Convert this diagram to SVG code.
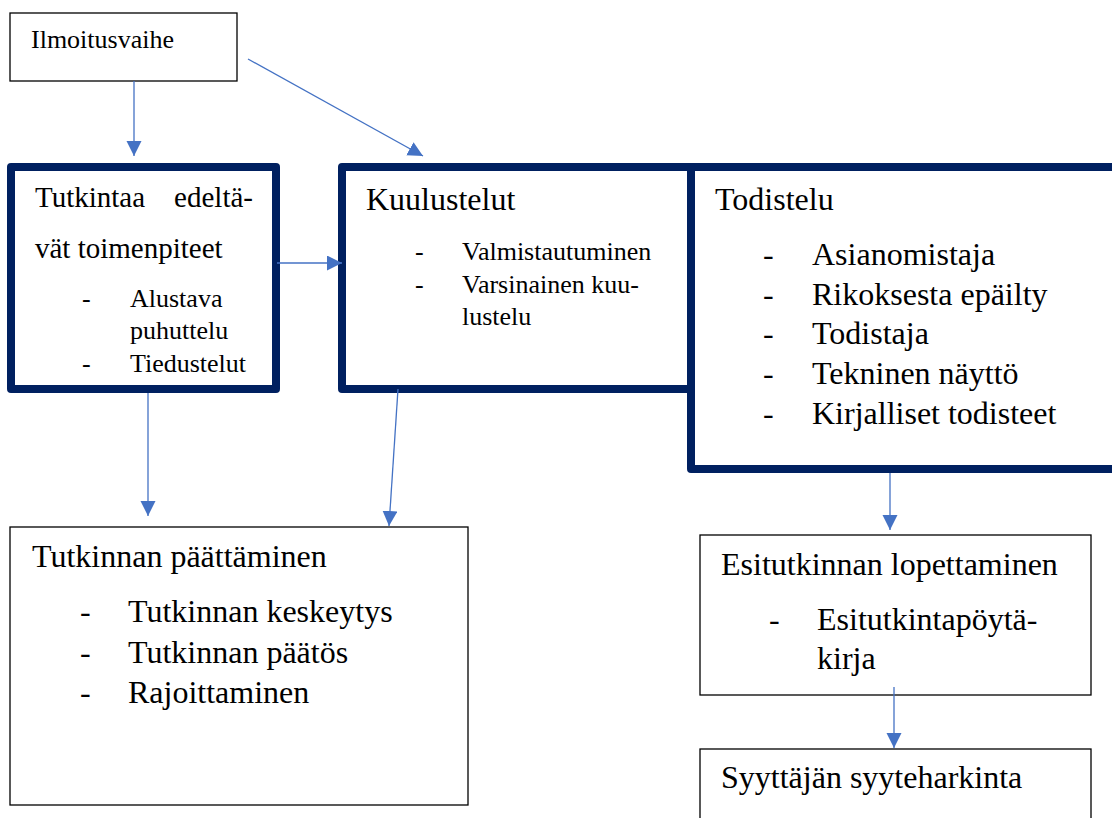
<svg xmlns="http://www.w3.org/2000/svg" width="1112" height="818" viewBox="0 0 1112 818">
<style>
text{font-family:"Liberation Serif","Times New Roman",serif;fill:#000}
.thin{fill:#fff;stroke:#000;stroke-width:1.3}
.thick{fill:#fff;stroke:#002060;stroke-width:8;stroke-linejoin:round}
.conn{stroke:#4472C4;stroke-width:1.3;fill:none;marker-end:url(#ah)}
.h26{font-size:26px}.h29{font-size:29px}.h32{font-size:32px}
</style>
<defs>
<marker id="ah" markerUnits="userSpaceOnUse" markerWidth="16" markerHeight="16" refX="15" refY="7.5" orient="auto">
<path d="M0,0 L15,7.5 L0,15 Z" fill="#4472C4"/>
</marker>
</defs>
<rect width="1112" height="818" fill="#fff"/>
<g id="todistelu">
<rect class="thick" x="691" y="167" width="440" height="302"/>
<text class="h32" x="715" y="210">Todistelu</text>
<text class="h32"><tspan x="763" y="265">-</tspan><tspan x="812" y="265">Asianomistaja</tspan><tspan x="763" y="305">-</tspan><tspan x="812" y="305">Rikoksesta epäilty</tspan><tspan x="763" y="344">-</tspan><tspan x="812" y="344">Todistaja</tspan><tspan x="763" y="384">-</tspan><tspan x="812" y="384">Tekninen näyttö</tspan><tspan x="763" y="424">-</tspan><tspan x="812" y="424">Kirjalliset todisteet</tspan></text>
</g>
<g id="kuulustelut">
<rect class="thick" x="342" y="167" width="349" height="222"/>
<text class="h32" x="366" y="210">Kuulustelut</text>
<text class="h26"><tspan x="415" y="260">-</tspan><tspan x="462" y="260">Valmistautuminen</tspan><tspan x="415" y="293">-</tspan><tspan x="462" y="293">Varsinainen kuu-</tspan><tspan x="462" y="325">lustelu</tspan></text>
</g>
<g id="ilmoitusvaihe">
<rect class="thin" x="10" y="13" width="227" height="68"/>
<text class="h26" x="31" y="48">Ilmoitusvaihe</text>
</g>
<g id="tutkintaa-edeltavat">
<rect class="thick" x="11" y="167" width="265" height="222"/>
<text class="h29" x="35" y="207">Tutkintaa</text>
<text class="h29" x="253" y="207" text-anchor="end">edeltä-</text>
<text class="h29" x="35" y="258">vät toimenpiteet</text>
<text class="h26"><tspan x="82" y="307">-</tspan><tspan x="130" y="307">Alustava</tspan><tspan x="130" y="339">puhuttelu</tspan><tspan x="82" y="372">-</tspan><tspan x="130" y="372">Tiedustelut</tspan></text>
</g>
<g id="tutkinnan-paattaminen">
<rect class="thin" x="10" y="527" width="458" height="278"/>
<text class="h32" x="32" y="567">Tutkinnan päättäminen</text>
<text class="h32"><tspan x="80" y="622">-</tspan><tspan x="128" y="622">Tutkinnan keskeytys</tspan><tspan x="80" y="663">-</tspan><tspan x="128" y="663">Tutkinnan päätös</tspan><tspan x="80" y="703">-</tspan><tspan x="128" y="703">Rajoittaminen</tspan></text>
</g>
<g id="esitutkinnan-lopettaminen">
<rect class="thin" x="700" y="535" width="391" height="160"/>
<text class="h32" x="721" y="575">Esitutkinnan lopettaminen</text>
<text class="h32"><tspan x="769" y="630">-</tspan><tspan x="817" y="630">Esitutkintapöytä-</tspan><tspan x="817" y="669">kirja</tspan></text>
</g>
<g id="syyttajan-syyteharkinta">
<rect class="thin" x="700" y="749" width="391" height="80"/>
<text class="h32" x="721" y="788">Syyttäjän syyteharkinta</text>
</g>
<g id="connectors">
<line class="conn" x1="134" y1="81" x2="134" y2="156"/>
<line class="conn" x1="248" y1="59" x2="423" y2="156"/>
<line class="conn" x1="277" y1="263" x2="342" y2="263"/>
<line class="conn" x1="148" y1="393" x2="148" y2="516"/>
<line class="conn" x1="398" y1="389" x2="389" y2="526"/>
<line class="conn" x1="890" y1="473" x2="890" y2="530"/>
<line class="conn" x1="894" y1="687" x2="894" y2="748"/>
</g>
</svg>
